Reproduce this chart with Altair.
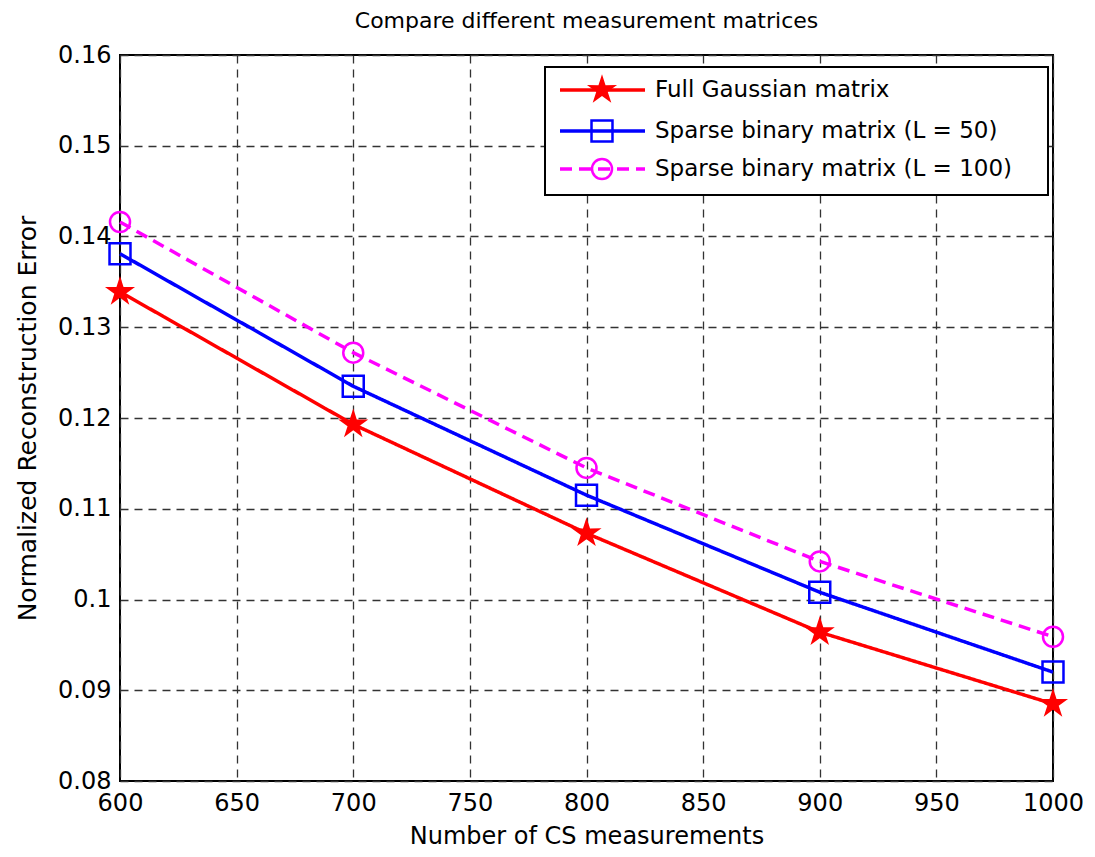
import math
import altair as alt
import pandas as pd

measurements = [600, 700, 800, 900, 1000]
full_gaussian = [0.1339, 0.1193, 0.1073, 0.0964, 0.0885]
sparse_l50 = [0.1381, 0.1235, 0.1115, 0.1008, 0.0920]
sparse_l100 = [0.1416, 0.1272, 0.1145, 0.1042, 0.0959]

series_names = ["Full Gaussian matrix", "Sparse binary matrix (L = 50)", "Sparse binary matrix (L = 100)"]
series_values = [full_gaussian, sparse_l50, sparse_l100]
series_colors = ["#ff0000", "#0000ff", "#ff00ff"]


def star_path():
    pts = []
    for k in range(10):
        a = math.radians(-90 + k * 36)
        r = 1.0 if k % 2 == 0 else 0.38
        pts.append(f"{r * math.cos(a):.4f},{r * math.sin(a):.4f}")
    return "M" + "L".join(pts) + "Z"


series_shapes = [star_path(), "square", "circle"]
series_filled = [True, False, False]
series_dash = [[1, 0], [1, 0], [12, 7]]
series_sizes = [1000, 440, 400]

W, H = 933, 726
FONT = "DejaVu Sans"
X0, X1 = 600, 1000
Y0, Y1 = 0.08, 0.16

x_axis = alt.Axis(values=list(range(600, 1001, 50)), title="Number of CS measurements",
                  format="d", titlePadding=9, labelPadding=10, labelFlush=False)
y_axis = alt.Axis(values=[0.08, 0.09, 0.1, 0.11, 0.12, 0.13, 0.14, 0.15, 0.16],
                  labelExpr="datum.value == 0.1 ? '0.1' : format(datum.value, '.2f')",
                  title="Normalized Reconstruction Error", titlePadding=17, labelPadding=9,
                  labelFlush=False, titleFontSize=25)
xs = alt.Scale(domain=[X0, X1], nice=False)
ys = alt.Scale(domain=[Y0, Y1], nice=False)


def px_to_x(px):
    return X0 + px / W * (X1 - X0)


def px_to_y(py):
    return Y1 - py / H * (Y1 - Y0)


layers = []
for i, name in enumerate(series_names):
    d = pd.DataFrame({"m": measurements, "err": series_values[i]})
    enc = dict(x=alt.X("m:Q", scale=xs, axis=x_axis), y=alt.Y("err:Q", scale=ys, axis=y_axis))
    layers.append(alt.Chart(d).mark_line(strokeWidth=3.5, color=series_colors[i],
                                         strokeDash=series_dash[i]).encode(**enc))
for i, name in enumerate(series_names):
    d = pd.DataFrame({"m": measurements, "err": series_values[i]})
    layers.append(alt.Chart(d).mark_point(shape=series_shapes[i], size=series_sizes[i],
                                          filled=series_filled[i], color=series_colors[i],
                                          strokeWidth=2.5, opacity=1).encode(x="m:Q", y="err:Q"))

# legend (placed in data space, upper right)
box_df = pd.DataFrame({"x1": [px_to_x(425)], "x2": [px_to_x(928)], "y1": [px_to_y(12)], "y2": [px_to_y(140)]})
layers.append(alt.Chart(box_df).mark_rect(fill="white", stroke="black", strokeWidth=2).encode(
    x="x1:Q", x2="x2:Q", y="y1:Q", y2="y2:Q"))
row_px = [35, 76, 114]
for i, name in enumerate(series_names):
    ld = pd.DataFrame({"name": [name], "xa": [px_to_x(440)], "xb": [px_to_x(525)], "xm": [px_to_x(482)],
                       "xt": [px_to_x(535)], "ly": [px_to_y(row_px[i])]})
    base = alt.Chart(ld)
    layers.append(base.mark_rule(strokeWidth=3.5, color=series_colors[i], strokeDash=series_dash[i]).encode(
        x="xa:Q", x2="xb:Q", y="ly:Q"))
    layers.append(base.mark_point(shape=series_shapes[i], size=series_sizes[i], filled=series_filled[i],
                                  color=series_colors[i], strokeWidth=2.5, opacity=1).encode(x="xm:Q", y="ly:Q"))
    layers.append(base.mark_text(align="left", baseline="middle", fontSize=23, font=FONT, color="black").encode(
        x="xt:Q", y="ly:Q", text="name:N"))

chart = alt.layer(*layers).properties(
    width=W, height=H,
    background="white",
    autosize=alt.AutoSizeParams(type="none"),
    padding={"left": 112, "top": 47, "right": 30, "bottom": 72},
    title=alt.Title("Compare different measurement matrices", fontSize=22, fontWeight="normal",
                    font=FONT, offset=10, color="black"),
).configure_view(stroke="black", strokeWidth=2).configure_axis(
    grid=True, gridColor="#333333", gridDash=[8, 6], gridWidth=1.3, gridOpacity=1,
    domain=False, ticks=False,
    labelFont=FONT, labelFontSize=24, labelColor="black",
    titleFont=FONT, titleFontSize=24, titleFontWeight="normal", titleColor="black",
)

chart.save("out.html", embed_options={"renderer": "svg", "actions": False})
